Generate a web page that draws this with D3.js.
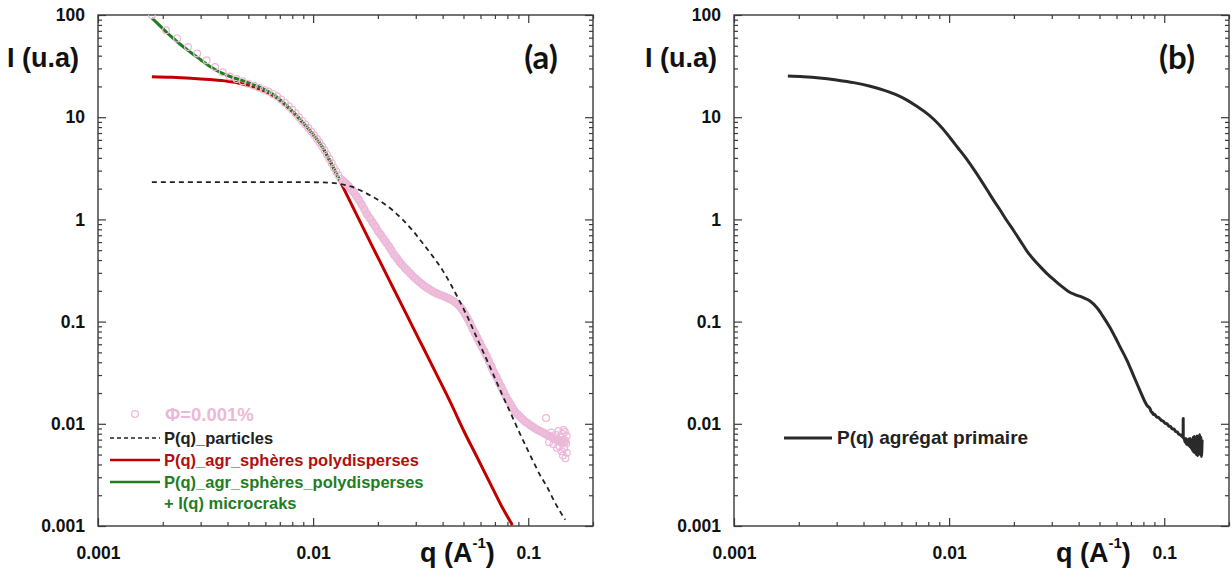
<!DOCTYPE html>
<html><head><meta charset="utf-8">
<script src="https://cdn.jsdelivr.net/npm/d3@7"></script>
<style>body{margin:0;background:#fff}svg{display:block}</style>
</head><body><svg id="c" width="1232" height="579"></svg>
<script>
// ---------- axes ----------
const xDomain = [0.001, 0.2];
const yDomain = [0.001, 100];
const xMajorTicks = [0.001, 0.01, 0.1];
const xTickLabels = ["0.001", "0.01", "0.1"];
const yMajorTicks = [0.001, 0.01, 0.1, 1, 10, 100];
const yTickLabels = ["0.001", "0.01", "0.1", "1", "10", "100"];

// ---------- panel (a) ----------
// P(q)_particles (dashed)
const partQ = [0.00178,0.004,0.007,0.010,0.012,0.0134,0.015,0.0168,0.0188,0.0212,0.0235,0.026,0.029,0.032,0.036,0.040,0.044,0.048,0.052,0.057,0.063,0.069,0.0757,0.083,0.0918,0.100,0.1054,0.113,0.1225,0.133,0.1486];
const partI = [2.32,2.32,2.32,2.31,2.28,2.22,2.10,1.90,1.68,1.44,1.22,1.00,0.78,0.60,0.435,0.317,0.224,0.158,0.113,0.0735,0.046,0.030,0.0192,0.0126,0.0079,0.0054,0.0043,0.0032,0.0024,0.0017,0.00115];
// P(q)_agr_sphères polydisperses (red)
const redQ = [0.00178,0.0022,0.0027,0.0033,0.0040,0.0046,0.0052,0.0058,0.0064,0.0070,0.0076,0.0082,0.0088,0.0095,0.0102,0.0110,0.0118,0.0126,0.0134,0.0145,0.0158,0.0178,0.0200,0.0225,0.0254,0.029,0.033,0.038,0.044,0.050,0.058,0.066,0.075,0.0844];
const redI = [24.9,24.6,24.1,23.4,22.5,21.4,20.0,18.4,16.6,14.6,12.6,10.8,9.2,7.7,6.4,5.15,3.95,3.02,2.32,1.66,1.15,0.693,0.425,0.259,0.156,0.0894,0.0521,0.0288,0.0154,0.00865,0.00465,0.0027,0.00158,0.00102];
// P(q)_agr_sphères_polydisperses + I(q) microcraks (green)
const greenQ = [0.00178,0.0019,0.00205,0.0022,0.0024,0.0027,0.003,0.0033,0.0037,0.0042,0.0047,0.0052,0.0058,0.0064,0.0070,0.0076,0.0082,0.0088,0.0095,0.0102,0.0110,0.0118,0.0126,0.0134];
const greenI = [93,82,70,61,52,43,36.5,31.5,27.5,24.6,22.8,21.0,19.1,17.1,14.9,12.8,10.9,9.3,7.75,6.45,5.17,3.96,3.03,2.32];
// Φ=0.001% measured points (pink circles)
const phiQ = [0.00178,0.00207,0.00233,0.00262,0.00289,0.0032,0.0035,0.0038,0.0041,0.0044,0.0047,0.005,0.0053,0.0056,0.0059,0.0062,0.0065,0.0068,0.0071,0.0074,0.0077,0.008,0.0083,0.0086,0.0089,0.0092,0.0095,0.0098,0.0101,0.0104,0.0107,0.011,0.0113,0.0116,0.0119,0.0122,0.0125,0.0128,0.0131,0.0134,
  0.0138,0.0142,0.0146,0.0150,0.0154,0.0159,0.0163,0.0168,0.0173,0.0178,0.0184,0.0189,0.0195,0.020,0.0206,0.0212,0.0218,0.0225,0.0231,0.0238,0.0245,0.0252,0.0259,0.0267,0.0275,0.0283,0.0291,0.030,0.0309,0.0318,0.0327,0.0337,0.0347,0.0357,0.0367,0.0378,0.0389,0.040,0.041,0.042,0.0432,0.0445,0.0457,0.047,0.0482,0.0495,0.0508,0.0522,0.0536,0.055,0.0565,0.058,0.0595,0.061,0.0625,0.064,0.0657,0.0675,0.0692,0.071,0.073,0.075,0.077,0.079,0.081,0.083,0.085,0.087,0.0895,0.092,0.0945,0.097,0.0995,0.102,0.1045,0.107,0.1095,0.112,0.1145,0.117,0.1195,0.122,0.1245,0.127,0.1295,0.132,0.1345,0.137,0.1395,0.142,0.1445,0.147];
const phiI = [100,71,59,48.5,42,36,31,27.5,25,23.6,22.5,21.3,20.3,19.4,18.6,17.8,16.9,16.0,14.9,13.8,12.8,11.8,10.9,10.0,9.2,8.5,7.85,7.25,6.7,6.15,5.65,5.2,4.75,4.3,3.9,3.55,3.2,2.95,2.7,2.5,
  2.38,2.25,2.12,1.98,1.86,1.68,1.56,1.40,1.26,1.12,1.02,0.93,0.85,0.77,0.71,0.65,0.60,0.545,0.50,0.45,0.42,0.385,0.36,0.335,0.315,0.295,0.278,0.262,0.248,0.236,0.225,0.215,0.207,0.199,0.193,0.187,0.183,0.179,0.175,0.171,0.166,0.161,0.155,0.148,0.140,0.130,0.119,0.107,0.097,0.086,0.077,0.069,0.062,0.056,0.051,0.046,0.041,0.036,0.032,0.029,0.0255,0.0228,0.0204,0.0183,0.0167,0.0153,0.0141,0.0131,0.0123,0.0116,0.0110,0.0105,0.0101,0.0097,0.0094,0.0091,0.0088,0.0086,0.0084,0.0082,0.0080,0.0078,0.0076,0.0075,0.0073,0.0071,0.0070,0.0069,0.0068,0.0067,0.0066,0.0066];
const phiTailQ = [0.121,0.125,0.128,0.131,0.134,0.136,0.138,0.139,0.140,0.141,0.143,0.143,0.144,0.145,0.146,0.146,0.147,0.148,0.149,0.149,0.150,0.151,0.151];
const phiTailI = [0.0114,0.0066,0.0082,0.0063,0.0078,0.0058,0.0085,0.0069,0.0060,0.0074,0.0054,0.0066,0.0080,0.0049,0.0070,0.0087,0.0058,0.0083,0.0046,0.0068,0.0064,0.0052,0.0076];

// ---------- panel (b) ----------
const primQ = [0.00178,0.0021,0.0025,0.003,0.0036,0.0043,0.005,0.0057,0.0064,0.0071,0.0078,0.0085,0.0093,0.0101,0.011,0.012,0.013,0.014,0.015,0.016,0.0172,0.0185,0.020,0.0215,0.023,0.0246,0.0265,0.0285,0.031,0.0335,0.036,0.039,0.042,0.045,0.0488,0.052,0.0555,0.059,0.0625,0.067,0.0718,0.0765,0.0834,0.086,0.087,0.088,0.089,0.090,0.092,0.094,0.0965,0.0989,0.101,0.103,0.105,0.107,0.109,0.111,0.113,0.115,0.117,0.119,0.1224,0.1225,0.1226,0.124,0.125,0.126,0.127,0.128,0.129,0.130,0.131,0.132,0.133,0.134,0.135,0.136,0.137,0.138,0.139,0.140,0.141,0.142,0.143,0.144,0.145,0.146,0.147,0.148,0.149,0.150];
const primI = [25.3,24.9,24.2,23.1,21.8,20.1,18.3,16.5,14.6,12.7,11.1,9.5,7.8,6.3,5.0,3.95,3.1,2.45,1.95,1.57,1.25,0.98,0.77,0.61,0.49,0.41,0.345,0.295,0.252,0.220,0.196,0.182,0.172,0.160,0.136,0.112,0.090,0.071,0.056,0.042,0.030,0.022,0.0150,0.0140,0.0131,0.0129,0.0123,0.0124,0.0117,0.0115,0.0109,0.0106,0.0101,0.0100,0.0095,0.0094,0.0089,0.0089,0.0084,0.0083,0.0079,0.0078,0.0074,0.0113,0.0073,0.0071,0.0066,0.0072,0.0063,0.0070,0.0062,0.0071,0.0060,0.0072,0.0058,0.0070,0.0055,0.0074,0.0053,0.0075,0.0052,0.0072,0.0050,0.0076,0.0049,0.0073,0.0052,0.0078,0.0050,0.0074,0.0048,0.0070];

// ---------- styles ----------
const FONT = "Arial, 'Liberation Sans', sans-serif";
const PINK = "#ecb8d8", PINK_BAND = "#f0c4df", RED = "#c00000", GREEN = "#1f7d1f", DARK = "#2a2a2a", AXIS = "#3a3a3a";
const yTop = 15, yBot = 526;
const panels = [{x0: 98, x1: 593, tag: "(a)"}, {x0: 734, x1: 1229, tag: "(b)"}];

const svg = d3.select("#c");
const zip = (a, b) => a.map((v, i) => [v, b[i]]);

function tickValues(dom) {
  const out = [];
  for (let d = Math.floor(Math.log10(dom[0])); d <= Math.ceil(Math.log10(dom[1])); d++) {
    for (let m = 1; m <= 9; m++) {
      const v = +(m * Math.pow(10, d)).toPrecision(6);
      if (v >= dom[0] * 0.9999 && v <= dom[1] * 1.0001) out.push(v);
    }
  }
  return out;
}
const isIn = (arr, v) => arr.findIndex(m => Math.abs(m - v) / m < 1e-6);

function drawPanel(p, idx) {
  const sx = d3.scaleLog().domain(xDomain).range([p.x0, p.x1]);
  const sy = d3.scaleLog().domain(yDomain).range([yBot, yTop]);
  const g = svg.append("g");
  const xt = tickValues(xDomain), yt = tickValues(yDomain);
  const styleAxis = (a) => {
    a.select(".domain").remove();
    a.selectAll(".tick line").attr("stroke", AXIS).attr("stroke-width", 1.2);
    a.selectAll("text").attr("font-family", FONT).attr("font-size", 17.5).attr("font-weight", "bold").attr("fill", "#111");
  };
  g.append("g").attr("transform", `translate(0,${yBot})`)
    .call(d3.axisBottom(sx).tickValues(xt).tickSize(0).tickPadding(21)
      .tickFormat(v => { const i = isIn(xMajorTicks, v); return i >= 0 ? xTickLabels[i] : ""; }))
    .call(styleAxis)
    .call(a => a.selectAll(".tick line").attr("y2", d => isIn(xMajorTicks, d) >= 0 ? -8 : -4));
  g.append("g").attr("transform", `translate(0,${yTop})`)
    .call(d3.axisTop(sx).tickValues(xt).tickSize(0).tickFormat(""))
    .call(styleAxis)
    .call(a => a.selectAll(".tick line").attr("y2", d => isIn(xMajorTicks, d) >= 0 ? 8 : 4));
  g.append("g").attr("transform", `translate(${p.x0},0)`)
    .call(d3.axisLeft(sy).tickValues(yt).tickSize(0).tickPadding(13)
      .tickFormat(v => { const i = isIn(yMajorTicks, v); return i >= 0 ? yTickLabels[i] : ""; }))
    .call(styleAxis)
    .call(a => a.selectAll(".tick line").attr("x2", d => isIn(yMajorTicks, d) >= 0 ? 8 : 4));
  g.append("g").attr("transform", `translate(${p.x1},0)`)
    .call(d3.axisRight(sy).tickValues(yt).tickSize(0).tickFormat(""))
    .call(styleAxis)
    .call(a => a.selectAll(".tick line").attr("x2", d => isIn(yMajorTicks, d) >= 0 ? -8 : -4));
  g.append("rect").attr("x", p.x0).attr("y", yTop).attr("width", p.x1 - p.x0).attr("height", yBot - yTop)
    .attr("fill", "none").attr("stroke", AXIS).attr("stroke-width", 1.4);

  const cid = "clip" + idx;
  svg.append("clipPath").attr("id", cid).append("rect")
    .attr("x", p.x0).attr("y", yTop).attr("width", p.x1 - p.x0).attr("height", yBot - yTop);
  const plot = svg.append("g").attr("clip-path", `url(#${cid})`);

  const line = d3.line().x(d => sx(d[0])).y(d => sy(d[1])).curve(d3.curveMonotoneX);

  g.append("text").attr("x", idx === 0 ? 7 : 645).attr("y", 67)
    .attr("font-family", FONT).attr("font-size", 27).attr("font-weight", "bold").attr("fill", "#111")
    .text("I (u.a)");
  const qt = g.append("text").attr("x", p.x0 + 322).attr("y", 562)
    .attr("font-family", FONT).attr("font-size", 27).attr("font-weight", "bold").attr("fill", "#111");
  qt.append("tspan").text("q (A");
  qt.append("tspan").attr("font-size", 15).attr("dy", -14).text("-1");
  qt.append("tspan").attr("dy", 14).text(")");
  g.append("text").attr("x", p.x1 - 52).attr("y", 69).attr("text-anchor", "middle")
    .attr("font-family", "Lato, 'Open Sans', sans-serif").attr("font-size", 33).attr("font-weight", "bold")
    .attr("fill", "#111").text(p.tag);

  if (idx === 0) {
    plot.append("path").datum(zip(redQ, redI)).attr("d", line)
      .attr("fill", "none").attr("stroke", RED).attr("stroke-width", 3);
    plot.append("path").datum(zip(greenQ, greenI)).attr("d", line)
      .attr("fill", "none").attr("stroke", GREEN).attr("stroke-width", 3);
    const phi = zip(phiQ, phiI);
    plot.append("path").datum(phi.filter(d => d[0] >= 0.0134)).attr("d", line)
      .attr("fill", "none").attr("stroke", PINK_BAND).attr("stroke-width", 8);
    plot.selectAll("circle.phi").data(phi.concat(zip(phiTailQ, phiTailI))).join("circle")
      .attr("class", "phi").attr("cx", d => sx(d[0])).attr("cy", d => sy(d[1])).attr("r", 3.4)
      .attr("fill", "none").attr("stroke", PINK).attr("stroke-width", 1.2);
    plot.append("path").datum(zip(partQ, partI)).attr("d", line)
      .attr("fill", "none").attr("stroke", "#222").attr("stroke-width", 1.8).attr("stroke-dasharray", "5,4");

    const lg = svg.append("g").attr("font-family", FONT).attr("font-weight", "bold");
    lg.append("circle").attr("cx", 135).attr("cy", 414).attr("r", 3.4).attr("fill", "none").attr("stroke", PINK).attr("stroke-width", 1.3);
    lg.append("text").attr("x", 165).attr("y", 421).attr("font-size", 18.5).attr("fill", PINK).text("Φ=0.001%");
    lg.append("line").attr("x1", 110).attr("x2", 160).attr("y1", 438).attr("y2", 438)
      .attr("stroke", "#222").attr("stroke-width", 1.5).attr("stroke-dasharray", "4,3");
    lg.append("text").attr("x", 164).attr("y", 444).attr("font-size", 16.5).attr("fill", "#222").text("P(q)_particles");
    lg.append("line").attr("x1", 110).attr("x2", 160).attr("y1", 460).attr("y2", 460).attr("stroke", RED).attr("stroke-width", 2.5);
    lg.append("text").attr("x", 164).attr("y", 466).attr("font-size", 16.5).attr("fill", "#b01010").text("P(q)_agr_sphères polydisperses");
    lg.append("line").attr("x1", 110).attr("x2", 160).attr("y1", 482).attr("y2", 482).attr("stroke", GREEN).attr("stroke-width", 2.5);
    lg.append("text").attr("x", 164).attr("y", 488).attr("font-size", 16.5).attr("fill", GREEN).text("P(q)_agr_sphères_polydisperses");
    lg.append("text").attr("x", 164).attr("y", 509).attr("font-size", 16.5).attr("fill", GREEN).text("+ I(q) microcraks");
  } else {
    plot.append("path").datum(zip(primQ, primI)).attr("d", line)
      .attr("fill", "none").attr("stroke", DARK).attr("stroke-width", 3).attr("stroke-linejoin", "round");
    const lg = svg.append("g").attr("font-family", FONT).attr("font-weight", "bold");
    lg.append("line").attr("x1", 784).attr("x2", 832).attr("y1", 438).attr("y2", 438).attr("stroke", DARK).attr("stroke-width", 3);
    lg.append("text").attr("x", 837).attr("y", 444).attr("font-size", 19).attr("fill", "#222").text("P(q) agrégat primaire");
  }
}
panels.forEach(drawPanel);
</script>
</body></html>
